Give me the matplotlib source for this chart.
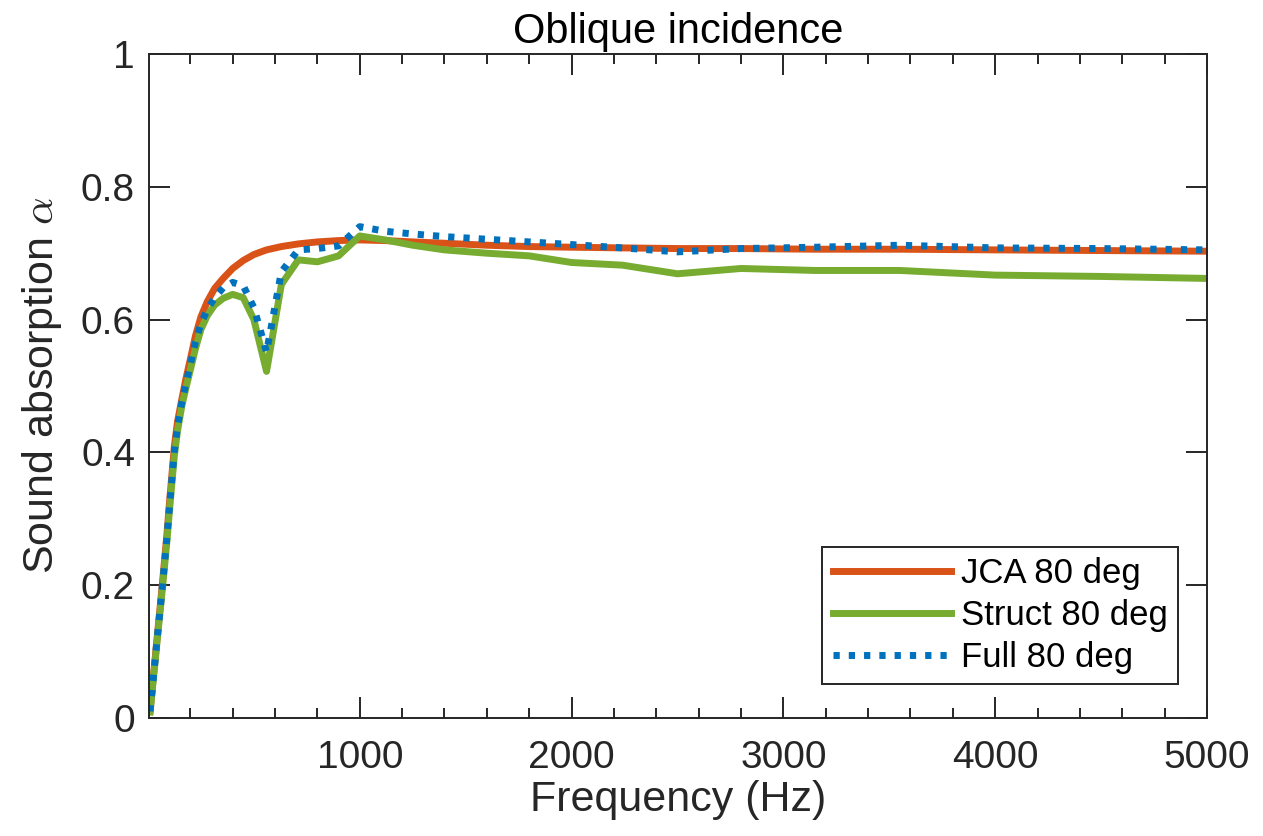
import numpy as np
import matplotlib
matplotlib.use('Agg')
import matplotlib.pyplot as plt
from matplotlib.ticker import FixedLocator, FuncFormatter

plt.rcParams['font.family'] = ['Liberation Sans', 'DejaVu Sans']
plt.rcParams['mathtext.fontset'] = 'cm'

# 1/6-octave frequencies (Hz)
freq = [10, 11.2, 12.5, 14, 16, 18, 20, 22.4, 25, 28, 31.5, 35.5, 40, 45, 50, 56,
        63, 71, 80, 90, 100, 112, 125, 140, 160, 180, 200, 224, 250, 280, 315, 355,
        400, 450, 500, 560, 630, 710, 800, 900, 1000, 1120, 1250, 1400, 1600, 1800,
        2000, 2240, 2500, 2800, 3150, 3550, 4000, 4500, 5000]

jca = [0.010, 0.014, 0.018, 0.023, 0.030, 0.037, 0.043, 0.052, 0.060, 0.070, 0.082, 0.094,
       0.110, 0.126, 0.143, 0.162, 0.185, 0.212, 0.243, 0.278, 0.318, 0.362, 0.410, 0.447,
       0.480, 0.512, 0.540, 0.575, 0.604, 0.627, 0.647, 0.662, 0.677, 0.689, 0.698, 0.705,
       0.710, 0.714, 0.717, 0.719, 0.720, 0.719, 0.717, 0.715, 0.712, 0.710, 0.709, 0.708,
       0.707, 0.707, 0.706, 0.706, 0.705, 0.704, 0.703]

struct = [0.009, 0.013, 0.017, 0.022, 0.028, 0.035, 0.041, 0.049, 0.057, 0.067, 0.078, 0.090,
          0.105, 0.121, 0.137, 0.156, 0.178, 0.204, 0.234, 0.268, 0.306, 0.350, 0.396, 0.433,
          0.470, 0.498, 0.524, 0.556, 0.585, 0.606, 0.622, 0.632, 0.638, 0.633, 0.600, 0.522,
          0.653, 0.690, 0.687, 0.696, 0.726, 0.720, 0.712, 0.705, 0.700, 0.696, 0.686, 0.682,
          0.669, 0.677, 0.674, 0.674, 0.667, 0.665, 0.662]

full = [0.010, 0.014, 0.018, 0.023, 0.029, 0.036, 0.042, 0.051, 0.059, 0.069, 0.080, 0.092,
        0.108, 0.124, 0.140, 0.159, 0.182, 0.208, 0.239, 0.273, 0.312, 0.356, 0.403, 0.440,
        0.475, 0.505, 0.532, 0.566, 0.594, 0.615, 0.633, 0.648, 0.656, 0.651, 0.618, 0.551,
        0.672, 0.705, 0.707, 0.711, 0.740, 0.733, 0.729, 0.725, 0.721, 0.717, 0.713, 0.708,
        0.702, 0.707, 0.709, 0.712, 0.708, 0.707, 0.705]

labels = ['JCA 80 deg', 'Struct 80 deg', 'Full 80 deg']
colors = ['#D95319', '#77AC30', '#0072BD']

W, H = 1263, 836
fig = plt.figure(figsize=(W / 100, H / 100), dpi=100)
ax = fig.add_axes([149 / W, (H - 718) / H, (1207 - 149) / W, (718 - 54) / H])

lw = 5.0
ax.plot(freq, jca, color=colors[0], lw=lw, label=labels[0])
ax.plot(freq, struct, color=colors[1], lw=lw, label=labels[1])
ax.plot(freq, full, color=colors[2], lw=lw, label=labels[2],
        dashes=(0.9, 1.3), dash_capstyle='butt')

ax.set_xlim(5, 5000)
ax.set_ylim(0, 1)
ax.xaxis.set_major_locator(FixedLocator([1000, 2000, 3000, 4000, 5000]))
ax.xaxis.set_minor_locator(FixedLocator([f for f in range(200, 5000, 200) if f % 1000]))
ax.yaxis.set_major_locator(FixedLocator([0, 0.2, 0.4, 0.6, 0.8, 1]))
ax.yaxis.set_major_formatter(FuncFormatter(lambda v, p: '%g' % v))

axcol = '#262626'
for s in ax.spines.values():
    s.set_linewidth(1.4)
    s.set_color(axcol)
ax.tick_params(which='both', direction='in', top=True, right=True, colors=axcol,
               labelsize=28, width=1.4, labelcolor='#262626')
ax.tick_params(which='major', length=15)
ax.tick_params(axis='x', which='major', pad=16)
ax.tick_params(axis='y', which='major', pad=10)
ax.tick_params(which='minor', length=7.5)

ax.set_xlabel('Frequency (Hz)', fontsize=31, color='#262626', labelpad=3)
ax.set_ylabel(r'Sound absorption $\alpha$', fontsize=31, color='#262626', labelpad=12)
ax.set_title('Oblique incidence', fontsize=30, color='black', pad=8)

leg = ax.legend(loc='lower right', bbox_to_anchor=(0.973, 0.051), fontsize=25,
                frameon=True, fancybox=False, framealpha=1, edgecolor='#262626',
                handlelength=3.4, handletextpad=0.3, borderpad=0.3, labelspacing=0.25,
                borderaxespad=0)
leg.get_frame().set_linewidth(1.4)

fig.savefig('out.png', dpi=100)
